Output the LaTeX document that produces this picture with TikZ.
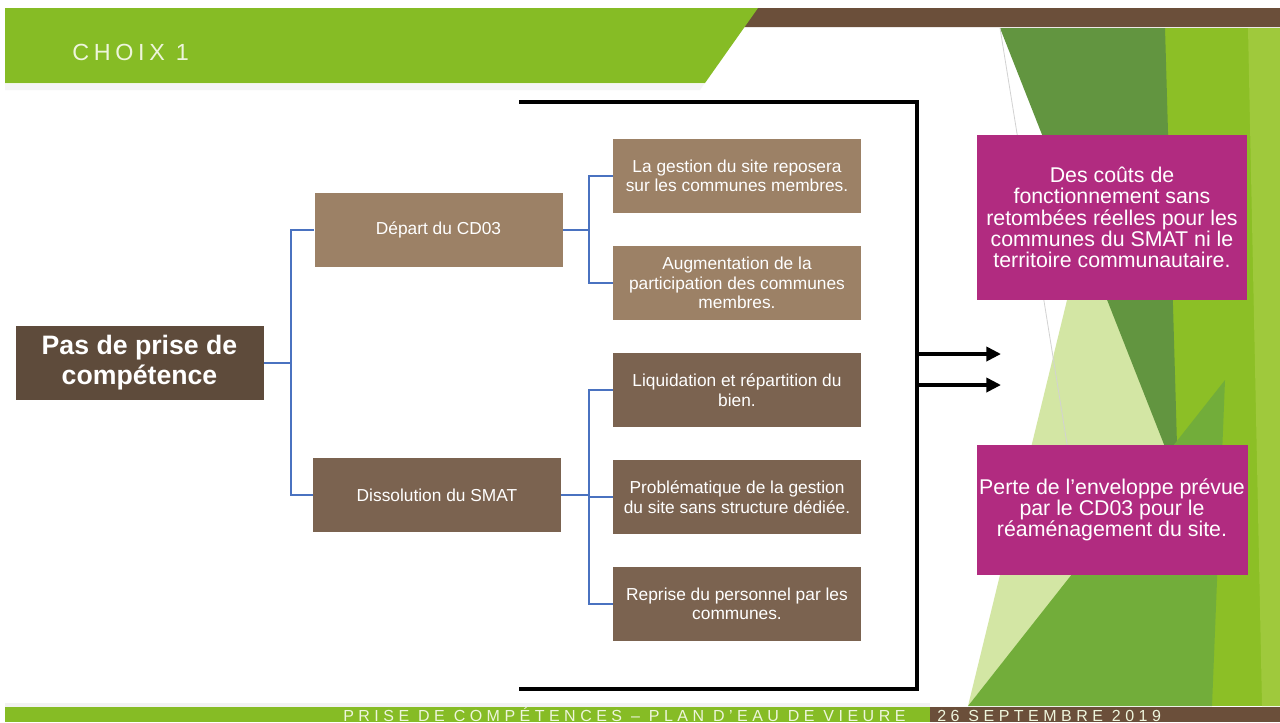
\documentclass[tikz,border=0pt]{standalone}
\usepackage{fontspec}
\setmainfont{Liberation Sans}
\usetikzlibrary{arrows.meta}
\definecolor{bannergreen}{HTML}{86BC25}
\definecolor{barbrown}{HTML}{6B4F3A}
\definecolor{darkbrown}{HTML}{5E4B3B}
\definecolor{lbrown}{HTML}{9C8166}
\definecolor{mbrown}{HTML}{7B6350}
\definecolor{magentabox}{HTML}{B12B80}
\definecolor{connblue}{HTML}{4A72C0}
\definecolor{dkgreen}{HTML}{629540}
\definecolor{mdgreen}{HTML}{72AD3A}
\definecolor{lime}{HTML}{8CBF26}
\definecolor{litelime}{HTML}{9FC93C}
\definecolor{palegreen}{HTML}{D3E6A4}
\definecolor{titlewhite}{HTML}{EEF5DC}
\begin{document}
\begin{tikzpicture}[x=0.75pt,y=-0.75pt,
  box/.style={rectangle, minimum width=186pt, minimum height=55.5pt, inner sep=2pt,
    text=white, align=center, font=\fontsize{13}{14.6}\selectfont},
  lb/.style={box, fill=lbrown},
  mb/.style={box, fill=mbrown},
  rootbox/.style={box, fill=darkbrown, font=\fontsize{20}{22.5}\selectfont\bfseries},
  magbox/.style={rectangle, fill=magentabox, minimum width=202.5pt, text=white,
    align=center, inner sep=2pt, font=\fontsize{16}{16}\selectfont},
  conn/.style={draw=connblue, line width=1.2pt},
  bracket/.style={draw=black, line width=3pt, line join=miter},
  arr/.style={draw=black, line width=3pt, -{Triangle[length=11pt,width=10.5pt]}},
  foottext/.style={anchor=base west, inner sep=0pt, text=titlewhite,
    font=\fontsize{12}{13}\selectfont\addfontfeature{LetterSpace=28}}
]
\useasboundingbox (0,0) rectangle (1280,722);
\clip (0,0) rectangle (1280,722);
\fill[white] (0,0) rectangle (1280,722);

% ---- right decorative green panel ----
\fill[lime] (1150,28) -- (1280,28) -- (1280,706) -- (1150,706) -- cycle;
\fill[litelime] (1248,28) -- (1280,28) -- (1280,706) -- (1262,706) -- cycle;
\fill[palegreen] (1078,255) -- (1150,330) -- (1178,480) -- (1100,540) -- (968,706) -- cycle;
\fill[dkgreen] (1000,28) -- (1165,28) -- (1178,480) -- cycle;
\fill[mdgreen] (968,706) -- (1225,380) -- (1212,706) -- cycle;
\draw[gray!35, line width=0.6pt] (1000,28) -- (1068,450);

% ---- top banner ----
\fill[barbrown] (752,8) -- (1280,8) -- (1280,27) -- (739,27) -- cycle;
\fill[bannergreen] (5,8) -- (758,8) -- (705,83) -- (5,83) -- cycle;
\fill[gray!8] (5,84) -- (704,84) -- (700,90) -- (5,90) -- cycle;
\node[anchor=base west, inner sep=0pt, text=titlewhite,
  font=\fontsize{17.5}{20}\selectfont\addfontfeature{LetterSpace=20}] (title) at (72,60) {CHOIX 1};

% ---- bottom bar ----
\fill[gray!10] (5,703) rectangle (930,707);
\fill[bannergreen] (5,707) rectangle (930,722);
\fill[barbrown] (930,707) rectangle (1280,722);
\node[foottext] (foot) at (343,721) {PRISE DE COMPÉTENCES – PLAN D’EAU DE VIEURE};
\node[foottext] (date) at (937,721) {26 SEPTEMBRE 2019};

% ---- tree ----
\node[rootbox] (root) at (139.5,363) {Pas de prise de\\compétence};
\node[lb] (dep) at (438.5,230) {Départ du CD03};
\node[mb] (dis) at (437,495) {Dissolution du SMAT};

\node[lb] (g1) at (737,176) {La gestion du site reposera\\sur les communes membres.};
\node[lb] (g2) at (737,283) {Augmentation de la\\participation des communes\\membres.};
\node[mb] (g3) at (737,390) {Liquidation et répartition du\\bien.};
\node[mb] (g4) at (737,497) {Problématique de la gestion\\du site sans structure dédiée.};
\node[mb] (g5) at (737,604) {Reprise du personnel par les\\communes.};

\draw[conn] (root.east) -- ++(27,0) |- (dep.west);
\draw[conn] (root.east) -- ++(27,0) |- (dis.west);
\draw[conn] (dep.east) -- ++(26,0) |- (g1.west);
\draw[conn] (dep.east) -- ++(26,0) |- (g2.west);
\draw[conn] (dis.east) -- ++(28,0) |- (g3.west);
\draw[conn] (dis.east) -- ++(28,0) |- (g4.west);
\draw[conn] (dis.east) -- ++(28,0) |- (g5.west);

% ---- bracket and arrows ----
\coordinate (btl) at (519,102);
\coordinate (btr) at (917,102);
\coordinate (bbr) at (917,689);
\coordinate (bbl) at (519,689);
\draw[bracket] (btl) -- (btr) -- (bbr) -- (bbl);
\coordinate (a1s) at (917,354);
\coordinate (a1e) at (1001,354);
\coordinate (a2s) at (917,385);
\coordinate (a2e) at (1001,385);
\draw[arr] (a1s) -- (a1e);
\draw[arr] (a2s) -- (a2e);

% ---- consequences ----
\node[magbox, minimum height=123.75pt] (c1) at (1112,217.5)
  {Des coûts de\\fonctionnement sans\\retombées réelles pour les\\communes du SMAT ni le\\territoire communautaire.};
\node[magbox, minimum height=97.5pt] (c2) at (1112,510)
  {Perte de l’enveloppe prévue\\par le CD03 pour le\\réaménagement du site.};
\end{tikzpicture}
\end{document}
